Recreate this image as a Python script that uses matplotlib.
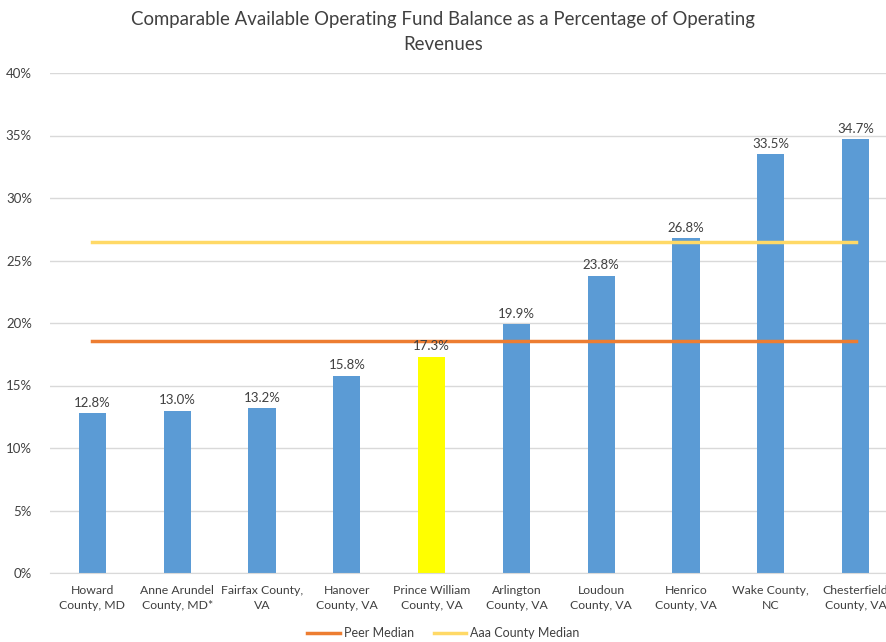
import matplotlib
matplotlib.use("Agg")
import matplotlib.pyplot as plt
from matplotlib.ticker import FuncFormatter

plt.rcParams['font.family'] = ['Lato', 'DejaVu Sans']

categories = ["Howard\nCounty, MD", "Anne Arundel\nCounty, MD*", "Fairfax County,\nVA",
              "Hanover\nCounty, VA", "Prince William\nCounty, VA", "Arlington\nCounty, VA",
              "Loudoun\nCounty, VA", "Henrico\nCounty, VA", "Wake County,\nNC",
              "Chesterfield\nCounty, VA"]
values = [12.8, 13.0, 13.2, 15.8, 17.3, 19.9, 23.8, 26.8, 33.5, 34.7]
highlight = "Prince William\nCounty, VA"
peer_median = 18.6
aaa_median = 26.5
yticks = [0, 5, 10, 15, 20, 25, 30, 35, 40]

W, H = 887, 642
fig = plt.figure(figsize=(W / 100, H / 100), dpi=100)
left, right, top, bottom = 50, 898, 73, 573
ax = fig.add_axes([left / W, 1 - bottom / H, (right - left) / W, (bottom - top) / H])

x = list(range(len(categories)))
colors = ["#FFFF00" if c == highlight else "#5B9BD5" for c in categories]
ax.bar(x, values, width=0.32, color=colors, zorder=2)
for xi, v in zip(x, values):
    ax.text(xi, v + 0.35, f"{v:.1f}%", ha="center", va="bottom", fontsize=9.5, color="#404040", zorder=4)

ax.plot([x[0], x[-1]], [peer_median] * 2, color="#ED7D31", lw=2.5, zorder=3, label="Peer Median")
ax.plot([x[0], x[-1]], [aaa_median] * 2, color="#FFD966", lw=2.5, zorder=3, label="Aaa County Median")

ax.set_xlim(-0.5, len(categories) - 0.5)
ax.set_ylim(0, 40)
ax.set_yticks(yticks)
ax.yaxis.set_major_formatter(FuncFormatter(lambda v, p: f"{v:.0f}%"))
ax.set_xticks(x)
ax.set_xticklabels(categories, fontsize=8.8, color="#404040", linespacing=1.35)
ax.tick_params(axis="y", labelsize=9.5, labelcolor="#404040", length=0, pad=13)
ax.tick_params(axis="x", length=0, pad=9)
ax.grid(axis="y", color="#D9D9D9", lw=1, zorder=0)
for s in ["top", "right", "left"]:
    ax.spines[s].set_visible(False)
ax.spines["bottom"].set_color("#D9D9D9")

fig.text(0.5, 1 - 20 / H, "Comparable Available Operating Fund Balance as a Percentage of Operating",
         ha="center", va="center", fontsize=13.4, color="#404040")
fig.text(0.5, 1 - 45 / H, "Revenues", ha="center", va="center", fontsize=13.4, color="#404040")

fig.legend(loc="center", ncol=2, frameon=False, fontsize=9, bbox_to_anchor=(0.5, 1 - 633 / H),
           handlelength=2.6, handletextpad=0.3, columnspacing=1.6, labelcolor="#404040")

fig.savefig("out.png", dpi=100)
